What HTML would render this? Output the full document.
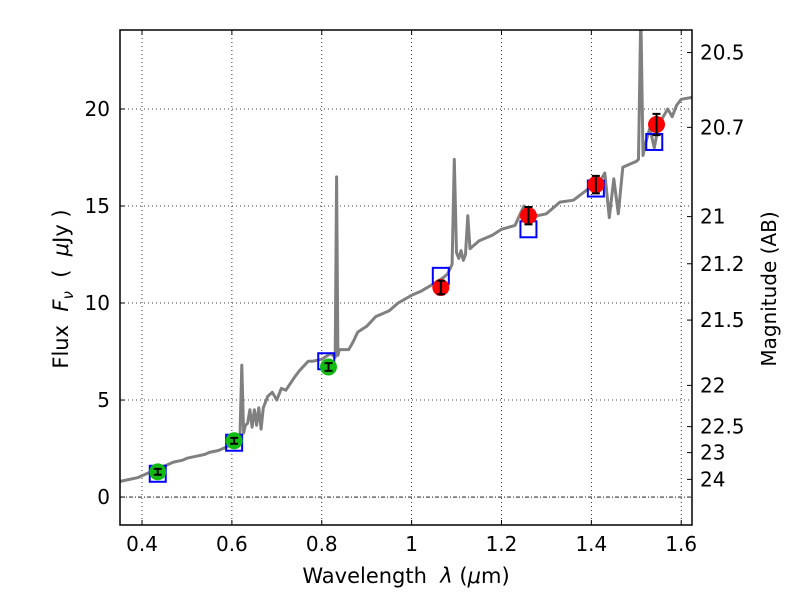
<!DOCTYPE html>
<html><head><meta charset="utf-8"><style>
body{margin:0;background:#fff;}
svg text{font-family:"DejaVu Sans","Liberation Sans",sans-serif;}
</style></head><body>
<svg id="chart" width="800" height="600" xmlns="http://www.w3.org/2000/svg"></svg>
<script>
const specLam=[0.35,0.37,0.39,0.40,0.42,0.44,0.45,0.47,0.49,0.50,0.52,0.54,0.55,0.57,0.59,0.60,0.61,0.618,0.622,0.626,0.63,0.635,0.64,0.645,0.65,0.655,0.66,0.665,0.67,0.68,0.69,0.70,0.71,0.72,0.74,0.75,0.77,0.78,0.80,0.82,0.83,0.833,0.836,0.839,0.845,0.86,0.87,0.88,0.90,0.92,0.95,0.97,1.00,1.02,1.05,1.07,1.08,1.09,1.095,1.10,1.105,1.11,1.115,1.12,1.125,1.13,1.15,1.18,1.20,1.23,1.25,1.26,1.28,1.30,1.33,1.36,1.40,1.42,1.43,1.44,1.45,1.46,1.47,1.48,1.50,1.505,1.51,1.515,1.52,1.53,1.54,1.55,1.57,1.58,1.59,1.60,1.625];
const specFlux=[0.8,0.9,1.0,1.1,1.3,1.4,1.6,1.8,1.9,2.0,2.1,2.2,2.3,2.4,2.6,2.8,3.0,3.2,6.8,3.3,3.7,3.8,4.5,3.6,4.5,3.7,4.6,3.5,4.6,5.2,5.4,5.0,5.6,5.5,6.2,6.5,7.0,7.0,7.1,7.4,7.2,16.5,7.3,7.6,7.6,7.6,8.0,8.5,8.8,9.3,9.6,10.0,10.4,10.6,11.0,11.3,11.5,12.0,17.4,12.6,12.3,12.7,12.2,12.5,14.5,12.8,13.2,13.5,13.8,14.0,15.0,14.8,14.5,14.6,15.2,15.3,16.0,16.3,16.7,14.4,16.4,14.6,17.0,17.1,17.3,17.4,25,17.6,18.2,19.0,18.0,19.2,20.0,19.6,20.2,20.5,20.6];
const obsLam=[0.435,0.605,0.815,1.065,1.26,1.41,1.545];
const obsFlux=[1.3,2.9,6.7,10.8,14.5,16.1,19.2];
const obsErr=[0.15,0.15,0.2,0.35,0.45,0.45,0.55];
const obsKind=['g','g','g','r','r','r','r'];
const modLam=[0.435,0.605,0.81,1.065,1.26,1.41,1.54];
const modFlux=[1.2,2.8,7.0,11.4,13.8,15.9,18.3];
const xTicks=[0.4,0.6,0.8,1.0,1.2,1.4,1.6];
const xTickLabels=['0.4','0.6','0.8','1','1.2','1.4','1.6'];
const yTicks=[0,5,10,15,20];
const magTicks=[20.5,20.7,21,21.2,21.5,22,22.5,23,24];
const magLabels=['20.5','20.7','21','21.2','21.5','22','22.5','23','24'];

const L=120,R=692,T=30,B=525, xmin=0.351,xmax=1.624, ymin=-1.44,ymax=24.07;
const X=v=>L+(v-xmin)/(xmax-xmin)*(R-L);
const Y=v=>B-(v-ymin)/(ymax-ymin)*(B-T);
const NS='http://www.w3.org/2000/svg';
const svg=document.getElementById('chart');
function mk(tag,a,parent){const e=document.createElementNS(NS,tag);for(const k in a)e.setAttribute(k,a[k]);(parent||svg).appendChild(e);return e;}
const defs=mk('defs',{});const cp=mk('clipPath',{id:'clip'},defs);mk('rect',{x:L,y:T,width:R-L,height:B-T},cp);

xTicks.forEach(t=>{const g=mk('line',{x1:X(t),x2:X(t),y1:T,y2:B,stroke:'#000','stroke-width':0.8,'stroke-dasharray':'1,3'});

});
yTicks.forEach(t=>{const g=mk('line',{x1:L,x2:R,y1:Y(t),y2:Y(t),stroke:'#000','stroke-width':0.8,'stroke-dasharray':t===0?'4,2,1,2':'1,3'});

});

const d=specLam.map((l,i)=>(i?'L':'M')+X(l).toFixed(1)+','+Y(specFlux[i]).toFixed(1)).join('');
const sp=mk('path',{d:d,fill:'none',stroke:'#808080','stroke-width':3,'clip-path':'url(#clip)','stroke-linejoin':'round'});



modLam.forEach((l,i)=>{const r=mk('rect',{x:X(l)-8,y:Y(modFlux[i])-8,width:16,height:16,fill:'none',stroke:'#0000ff','stroke-width':2});

});
obsLam.forEach((l,i)=>{const c=mk('circle',{cx:X(l),cy:Y(obsFlux[i]),r:8.5,fill:obsKind[i]==='g'?'#11bb11':'#ff0000'});


const x=X(l),y1=Y(obsFlux[i]+obsErr[i]),y2=Y(obsFlux[i]-obsErr[i]);
const e=mk('path',{d:`M${x},${y1}L${x},${y2}M${x-4},${y1}L${x+4},${y1}M${x-4},${y2}L${x+4},${y2}`,stroke:'#000','stroke-width':2,fill:'none'});

});

xTicks.forEach((t,i)=>{mk('line',{x1:X(t),x2:X(t),y1:B,y2:B-5,stroke:'#000'});mk('line',{x1:X(t),x2:X(t),y1:T,y2:T+5,stroke:'#000'});
const tx=mk('text',{x:X(t),y:B+26,'text-anchor':'middle','font-size':20});tx.textContent=xTickLabels[i];

});
yTicks.forEach(t=>{mk('line',{x1:L,x2:L+5,y1:Y(t),y2:Y(t),stroke:'#000'});
const tx=mk('text',{x:L-10,y:Y(t)+7,'text-anchor':'end','font-size':20});tx.textContent=String(t);

});
magTicks.forEach((m,i)=>{const f=Math.pow(10,(23.9-m)/2.5);const y=Y(f);
mk('line',{x1:R,x2:R-5,y1:y,y2:y,stroke:'#000'});
const tx=mk('text',{x:R+8,y:y+7,'font-size':20});tx.textContent=magLabels[i];

});
const fr=mk('rect',{x:L,y:T,width:R-L,height:B-T,fill:'none',stroke:'#000','stroke-width':1.5});


</script>
<div style="position:absolute;left:0;top:0;width:800px;height:600px;pointer-events:none">
<svg width="800" height="600">
<text x="406" y="583" text-anchor="middle" font-size="21" xml:space="preserve">Wavelength  <tspan font-style="italic">λ</tspan> (<tspan font-style="italic">μ</tspan>m)</text>
<text transform="translate(68,289) rotate(-90)" text-anchor="middle" font-size="21" xml:space="preserve">Flux  <tspan font-style="italic">F</tspan><tspan font-style="italic" font-size="15" dy="5">ν</tspan><tspan dy="-5">  (  </tspan><tspan font-style="italic">μ</tspan>Jy )</text>
<text transform="translate(776,289) rotate(-90)" text-anchor="middle" font-size="20">Magnitude (AB)</text>
</svg></div>
</body></html>
